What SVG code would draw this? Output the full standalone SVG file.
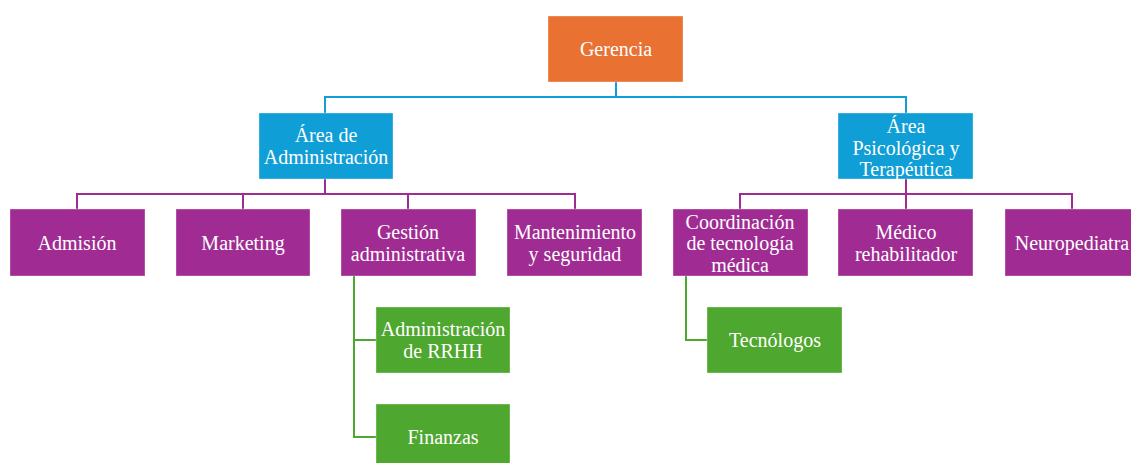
<svg xmlns="http://www.w3.org/2000/svg" width="1131" height="463" viewBox="0 0 1131 463">
  <style>
    .box { stroke: #ffffff; stroke-opacity: 0.35; stroke-width: 1; }
    .l0 { fill: #E97132; }
    .l1 { fill: #0F9ED5; }
    .l2 { fill: #A02B93; }
    .l3 { fill: #4EA72E; }
    .lbl { font-family: "Liberation Serif", "Times New Roman", serif; font-size: 20px; fill: #ffffff; text-anchor: middle; }
    .c-blue { fill: none; stroke: #0F9ED5; stroke-width: 2; }
    .c-purple { fill: none; stroke: #A02B93; stroke-width: 2; }
    .c-green { fill: none; stroke: #4EA72E; stroke-width: 2; }
  </style>
  <rect width="1131" height="463" fill="#ffffff"/>

  <!-- connectors -->
  <g id="connectors">
    <path class="c-blue" d="M616 82 V97 M325 113 V97 H906 V113"/>
    <path class="c-purple" d="M325 179 V194 M77 209 V194 H575 V209 M243 194 V209 M408 194 V209"/>
    <path class="c-purple" d="M906 179 V194 M740 209 V194 H1072 V209 M906 194 V209"/>
    <path class="c-green" d="M354 276 V437 H376 M354 340 H376"/>
    <path class="c-green" d="M686 276 V340 H707"/>
  </g>

  <g id="gerencia">
    <rect class="box l0" x="548" y="16" width="135" height="66"/>
    <text class="lbl" x="616" y="56">Gerencia</text>
  </g>

  <g id="area-administracion">
    <rect class="box l1" x="259" y="113" width="134" height="66"/>
    <text class="lbl" x="326" y="142">Área de</text>
    <text class="lbl" x="326" y="164">Administración</text>
  </g>

  <g id="area-psicologica">
    <rect class="box l1" x="838" y="113" width="135" height="66"/>
    <text class="lbl" x="906" y="133">Área</text>
    <text class="lbl" x="906" y="155">Psicológica y</text>
    <text class="lbl" x="906" y="176">Terapéutica</text>
  </g>

  <g id="admision">
    <rect class="box l2" x="10" y="209" width="135" height="67"/>
    <text class="lbl" x="77" y="250">Admisión</text>
  </g>

  <g id="marketing">
    <rect class="box l2" x="176" y="209" width="134" height="67"/>
    <text class="lbl" x="243" y="250">Marketing</text>
  </g>

  <g id="gestion-administrativa">
    <rect class="box l2" x="341" y="209" width="135" height="67"/>
    <text class="lbl" x="408" y="239">Gestión</text>
    <text class="lbl" x="408" y="261">administrativa</text>
  </g>

  <g id="mantenimiento">
    <rect class="box l2" x="507" y="209" width="135" height="67"/>
    <text class="lbl" x="575" y="239">Mantenimiento</text>
    <text class="lbl" x="575" y="261">y seguridad</text>
  </g>

  <g id="coordinacion">
    <rect class="box l2" x="673" y="209" width="135" height="67"/>
    <text class="lbl" x="740" y="229">Coordinación</text>
    <text class="lbl" x="740" y="250">de tecnología</text>
    <text class="lbl" x="740" y="272">médica</text>
  </g>

  <g id="medico">
    <rect class="box l2" x="838" y="209" width="135" height="67"/>
    <text class="lbl" x="906" y="239">Médico</text>
    <text class="lbl" x="906" y="261">rehabilitador</text>
  </g>

  <g id="neuropediatra">
    <rect class="box l2" x="1005" y="209" width="135" height="67"/>
    <text class="lbl" x="1072" y="250">Neuropediatra</text>
  </g>

  <g id="rrhh">
    <rect class="box l3" x="376" y="307" width="134" height="66"/>
    <text class="lbl" x="443" y="336">Administración</text>
    <text class="lbl" x="443" y="358">de RRHH</text>
  </g>

  <g id="finanzas">
    <rect class="box l3" x="376" y="404" width="134" height="66"/>
    <text class="lbl" x="443" y="444">Finanzas</text>
  </g>

  <g id="tecnologos">
    <rect class="box l3" x="707" y="307" width="135" height="66"/>
    <text class="lbl" x="775" y="347">Tecnólogos</text>
  </g>
</svg>
